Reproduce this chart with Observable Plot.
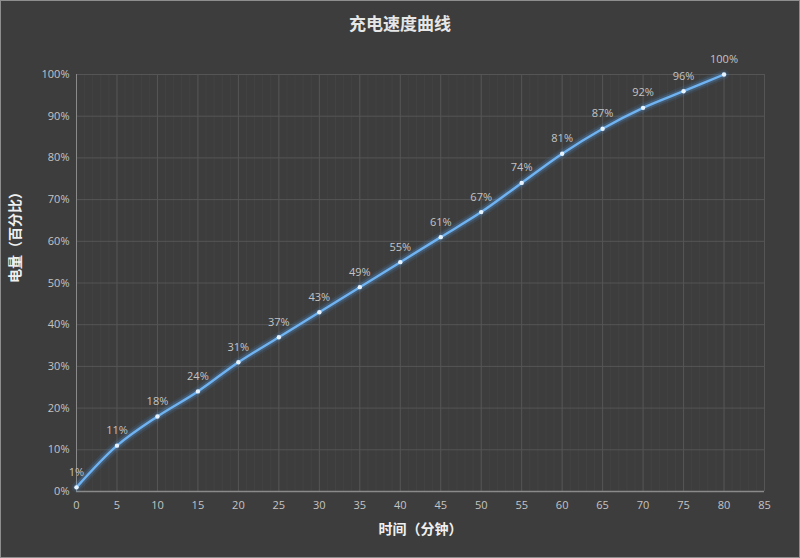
<!DOCTYPE html>
<html>
<head>
<meta charset="utf-8">
<script src="https://cdn.jsdelivr.net/npm/d3@7"></script>
<script src="https://cdn.jsdelivr.net/npm/@observablehq/plot@0.6"></script>
<style>
  html, body { margin: 0; padding: 0; background: #3d3d3d; }
  #wrap { position: relative; width: 800px; height: 558px; background: #3d3d3d; box-shadow: inset 0 0 0 1px #8e8e8e; overflow: hidden; }
  #title { height: 40px; padding-top: 10px; line-height: 40px; text-align: center; color: #e6e6e6; font: bold 17px "Noto Sans CJK SC", sans-serif; }
</style>
</head>
<body>
<div id="wrap">
  <div id="title">充电速度曲线</div>
  <div id="chart"></div>
</div>
<script>
const minutes = [0, 5, 10, 15, 20, 25, 30, 35, 40, 45, 50, 55, 60, 65, 70, 75, 80];
const charge  = [1, 11, 18, 24, 31, 37, 43, 49, 55, 61, 67, 74, 81, 87, 92, 96, 100];
const xTicks = [0, 5, 10, 15, 20, 25, 30, 35, 40, 45, 50, 55, 60, 65, 70, 75, 80, 85];
const yTicks = [0, 10, 20, 30, 40, 50, 60, 70, 80, 90, 100];
const xLabel = "时间（分钟）";
const yLabel = "电量（百分比）";

const data = minutes.map((m, i) => ({m, c: charge[i]}));
const minorTicks = d3.range(0, 86, 1);
const font = "'Open Sans', 'Noto Sans CJK SC', sans-serif";

const chart = Plot.plot({
  width: 800,
  height: 508,
  marginLeft: 76,
  marginRight: 36,
  marginTop: 24,
  marginBottom: 67,
  style: {background: "transparent", color: "#c4c4c4", fontSize: "11px", fontFamily: font},
  x: {domain: [0, 85]},
  y: {domain: [0, 100]},
  marks: [
    Plot.ruleX(minorTicks, {stroke: "#434343", strokeWidth: 1}),
    Plot.ruleX(xTicks, {stroke: "#555555", strokeWidth: 1}),
    Plot.ruleY(yTicks, {stroke: "#555555", strokeWidth: 1}),
    Plot.ruleX([0], {stroke: "#8a8a8a", strokeWidth: 1}),
    Plot.ruleY([0], {stroke: "#8a8a8a", strokeWidth: 1.5}),
    Plot.axisX(xTicks, {tickSize: 0, tickPadding: 10, label: null, fill: "#c4c4c4", fontSize: 11}),
    Plot.axisY(yTicks, {tickSize: 0, tickPadding: 7, label: null, tickFormat: d => d + "%", fill: "#c4c4c4", fontSize: 11}),
    Plot.line(data, {x: "m", y: "c", curve: "catmull-rom", stroke: "#4a90e2", strokeWidth: 10, strokeOpacity: 0.12}),
    Plot.line(data, {x: "m", y: "c", curve: "catmull-rom", stroke: "#5aa2ec", strokeWidth: 6, strokeOpacity: 0.22}),
    Plot.line(data, {x: "m", y: "c", curve: "catmull-rom", stroke: "#6fb3f2", strokeWidth: 2.4}),
    Plot.dot(data, {x: "m", y: "c", r: 2.2, fill: "#e6f3ff", stroke: null}),
    Plot.text(data, {x: "m", y: "c", text: d => d.c + "%", dy: -15, fill: "#c4c4c4", fontSize: 11}),
    Plot.text([yLabel], {frameAnchor: "left", dx: -61, rotate: -90, fill: "#f0f0f0", fontSize: 14, fontWeight: "bold", fontFamily: "'Noto Sans CJK SC', sans-serif"}),
    Plot.text([xLabel], {frameAnchor: "bottom", dy: 42, fill: "#f0f0f0", fontSize: 14, fontWeight: "bold", fontFamily: "'Noto Sans CJK SC', sans-serif"})
  ]
});
document.getElementById("chart").appendChild(chart);
</script>
</body>
</html>
